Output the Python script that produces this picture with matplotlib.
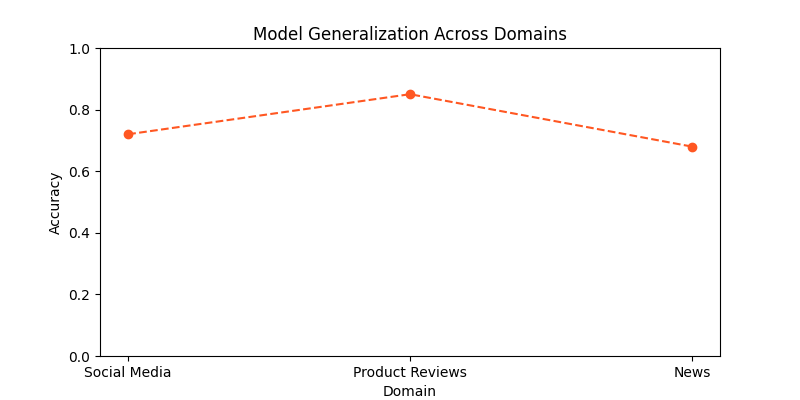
import matplotlib
matplotlib.use("Agg")
import matplotlib.pyplot as plt

domains = ["Social Media", "Product Reviews", "News"]
accuracy = [0.72, 0.85, 0.68]


def plot_generalization():
    fig, ax = plt.subplots(figsize=(8, 4), dpi=100)
    ax.plot(domains, accuracy, marker="o", linestyle="--", color="#FF5722")
    ax.set_ylim(0, 1)
    ax.set_title("Model Generalization Across Domains")
    ax.set_xlabel("Domain")
    ax.set_ylabel("Accuracy")
    fig.savefig("out.png")


plot_generalization()
